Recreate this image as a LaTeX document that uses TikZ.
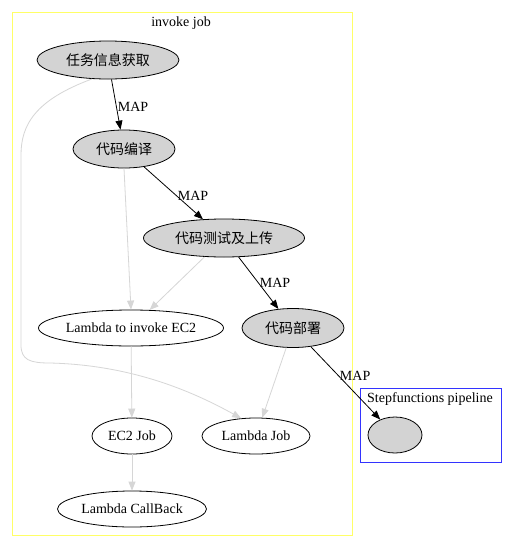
\documentclass[tikz,border=0pt]{standalone}
\usepackage{fontspec}
\setmainfont{Liberation Serif}
\newfontfamily\cjk{Noto Sans CJK SC}
\usetikzlibrary{shapes.geometric,arrows.meta}
\definecolor{nodegray}{HTML}{D3D3D3}
\definecolor{edgegray}{HTML}{D6D6D6}
\definecolor{jobyellow}{HTML}{FFFF66}
\definecolor{sfblue}{HTML}{3333FF}
\newcommand{\mapedge}[3]{\draw[mapline] (#1) --node[pos=#3,right,inner sep=1pt]{MAP} (#2);}
\newcommand{\grayedge}[2]{\draw[grayline] (#1) -- (#2);}

\begin{document}
\begin{tikzpicture}[x=1pt,y=-1pt,
    font=\fontsize{14}{16}\selectfont,
    task/.style={ellipse,draw,line width=.8pt,fill=nodegray,inner sep=0pt},
    job/.style={ellipse,draw,line width=.8pt,fill=white,inner sep=0pt},
    mapline/.style={line width=.8pt,-{Triangle[length=9pt,width=7pt]}},
    grayline/.style={line width=.8pt,draw=edgegray,-{Triangle[length=9pt,width=7pt,fill=edgegray]}}]
			\useasboundingbox (0,0) rectangle (513,547);
			\fill[white] (0,0) rectangle (513,547);
			% clusters
			\draw[jobyellow,thick] (12,12) rectangle (352,535);
			\node(jobtitle) at (181,23) {invoke job};
			\draw[sfblue,thick] (360,388) rectangle (501,462);
			\node(sftitle) at (430,399) {Stepfunctions pipeline};
			
			\node[task,minimum width=142pt,minimum height=38pt](fetch) at (108,60) {\cjk 任务信息获取};
			\node[task,minimum width=102pt,minimum height=38pt](build) at (124,149) {\cjk 代码编译};
			\node[task,minimum width=161pt,minimum height=38pt](test) at (224,238) {\cjk 代码测试及上传};
			\node[job,minimum width=185pt,minimum height=36pt](invoke) at (131,328) {Lambda to invoke EC2};
			\node[task,minimum width=102pt,minimum height=39pt](deploy) at (293,328) {\cjk 代码部署};
			\node[job,minimum width=80pt,minimum height=36pt](ec2) at (132,436) {EC2 Job};
			\node[job,minimum width=108pt,minimum height=36pt](ljob) at (256,436) {Lambda Job};
			\node[job,minimum width=149pt,minimum height=36pt](callback) at (132,509) {Lambda CallBack};
			\node[task,minimum width=54pt,minimum height=36pt](pipe) at (395,435) {};
			
			\mapedge{fetch}{build}{.55}
			\mapedge{build}{test}{.55}
			\mapedge{test}{deploy}{.5}
			\mapedge{deploy}{pipe}{.4}
			
			\grayedge{build.south}{invoke.north}
			\grayedge{test}{invoke}
			\grayedge{invoke}{ec2}
			\grayedge{ec2}{callback}
			\grayedge{deploy}{ljob}
			\draw[grayline] (fetch.230) .. controls (35,100) and (21,125) .. (21,155)
			  -- (21,345) .. controls (21,360) and (30,363) .. (50,363)
			  .. controls (130,365) and (190,390) .. (ljob.130);
		\end{tikzpicture}
\end{document}
